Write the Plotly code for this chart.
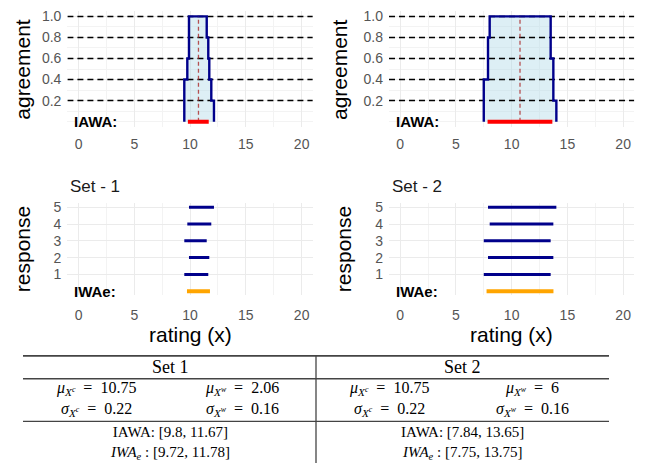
import plotly.graph_objects as go

# ---------------- data ----------------
SETS = ["Set 1", "Set 2"]
RESPONSES = [1, 2, 3, 4, 5]
# interval responses (left, right) per set, response 1..5
SET1_LEFT = [9.48, 9.90, 9.48, 9.75, 9.90]
SET1_RIGHT = [11.63, 11.72, 11.49, 11.90, 12.14]
SET2_LEFT = [7.50, 7.88, 7.50, 8.03, 7.88]
SET2_RIGHT = [13.50, 13.74, 13.50, 13.74, 14.01]

MU_C = [10.75, 10.75]
MU_W = [2.06, 6]
SIG_C = [0.22, 0.22]
SIG_W = [0.16, 0.16]
IAWA = [[9.8, 11.67], [7.84, 13.65]]
IWAE = [[9.72, 11.78], [7.75, 13.75]]

AGREE_LEVELS = [0.2, 0.4, 0.6, 0.8, 1.0]
AGREE_TICKTEXT = ["0.2", "0.4", "0.6", "0.8", "1.0"]
X_TICKS = [0, 5, 10, 15, 20]
X_TICKTEXT = ["0", "5", "10", "15", "20"]
RESP_TICKTEXT = ["1", "2", "3", "4", "5"]

# ---------------- layout constants ----------------
W, H = 646, 463
XRANGE = [-1, 21]
NAVY = "#00008B"
SANS = "Liberation Sans, Arial, sans-serif"
SERIF = "Liberation Serif, Times New Roman, serif"
TICKC = "#555555"
GRID = "#EBEBEB"


def px(x):
    return x / W


def py(y):
    return 1 - y / H


def agreement_path(lefts, rights):
    n = len(lefts)
    bps = sorted(set(lefts + rights))
    xs, ys, prev = [], [], 0.0
    for b in bps:
        c = (sum(l <= b for l in lefts) - sum(r <= b for r in rights)) / n
        xs += [b, b]
        ys += [prev, c]
        prev = c
    return xs, ys


fig = go.Figure()

panels = [
    (SET1_LEFT, SET1_RIGHT, 0, "x", "y", "x3", "y3"),
    (SET2_LEFT, SET2_RIGHT, 1, "x2", "y2", "x4", "y4"),
]

for lefts, rights, i, xa, ya, xb, yb in panels:
    sx, sy = agreement_path(lefts, rights)
    # fill
    fig.add_trace(go.Scatter(x=sx, y=sy, xaxis=xa, yaxis=ya, mode="lines",
                             fill="toself", fillcolor="rgba(173,216,230,0.42)",
                             line=dict(width=0), hoverinfo="skip", showlegend=False))
    # dashed agreement levels
    hx, hy = [], []
    for lv in AGREE_LEVELS:
        hx += [XRANGE[0], XRANGE[1], None]
        hy += [lv, lv, None]
    fig.add_trace(go.Scatter(x=hx, y=hy, xaxis=xa, yaxis=ya, mode="lines",
                             line=dict(color="black", width=1.5, dash="6px,4px"),
                             hoverinfo="skip", showlegend=False))
    # outline
    fig.add_trace(go.Scatter(x=sx, y=sy, xaxis=xa, yaxis=ya, mode="lines",
                             line=dict(color=NAVY, width=2.4),
                             hoverinfo="skip", showlegend=False))
    # mean centre line
    fig.add_trace(go.Scatter(x=[MU_C[i], MU_C[i]], y=[0, 1], xaxis=xa, yaxis=ya,
                             mode="lines",
                             line=dict(color="rgba(170,40,40,0.8)", width=1.3, dash="4px,3px"),
                             hoverinfo="skip", showlegend=False))
    # IAWA bar
    fig.add_trace(go.Scatter(x=IAWA[i], y=[0, 0], xaxis=xa, yaxis=ya, mode="lines",
                             line=dict(color="#FF0000", width=4),
                             hoverinfo="skip", showlegend=False))
    # responses
    rx, ry = [], []
    for l, r, k in zip(lefts, rights, RESPONSES):
        rx += [l, r, None]
        ry += [k, k, None]
    fig.add_trace(go.Scatter(x=rx, y=ry, xaxis=xb, yaxis=yb, mode="lines",
                             line=dict(color=NAVY, width=3),
                             hoverinfo="skip", showlegend=False))
    # IWAe bar
    fig.add_trace(go.Scatter(x=IWAE[i], y=[0, 0], xaxis=xb, yaxis=yb, mode="lines",
                             line=dict(color="#FFA500", width=4),
                             hoverinfo="skip", showlegend=False))
    # labels
    fig.add_annotation(x=-0.55, y=0, xref=xa, yref=ya, text="<b>IAWA:</b>",
                       showarrow=False, xanchor="left", yanchor="middle",
                       font=dict(family=SANS, size=15, color="black"))
    fig.add_annotation(x=-0.55, y=0, xref=xb, yref=yb, text="<b>IWAe:</b>",
                       showarrow=False, xanchor="left", yanchor="middle",
                       font=dict(family=SANS, size=15, color="black"))

XD_L = [px(67.4), px(312.8)]
XD_R = [px(389), px(634.3)]
YD_T = [py(124), py(7.2)]
YD_B = [py(293.9), py(200.8)]


def xaxis_cfg(standoff):
    return dict(range=XRANGE, tickvals=X_TICKS, ticktext=X_TICKTEXT, showgrid=True,
                gridcolor=GRID, gridwidth=1.2, zeroline=False, showline=False, ticks="",
                tickfont=dict(family=SANS, size=14, color=TICKC), ticklabelstandoff=standoff,
                minor=dict(dtick=2.5, tick0=0, showgrid=True, gridcolor="#F3F3F3", gridwidth=0.8))


ytop = dict(range=[-0.05, 1.05], tickvals=AGREE_LEVELS, ticktext=AGREE_TICKTEXT,
            showgrid=True, gridcolor=GRID, gridwidth=1.2, zeroline=False, ticks="",
            tickfont=dict(family=SANS, size=14, color=TICKC), ticklabelstandoff=5,
            minor=dict(tickvals=[0.0, 0.1, 0.3, 0.5, 0.7, 0.9], showgrid=True,
                       gridcolor="#F3F3F3", gridwidth=0.8))
ybot = dict(range=[-0.25, 5.25], tickvals=RESPONSES, ticktext=RESP_TICKTEXT,
            showgrid=True, gridcolor=GRID, gridwidth=1.2, zeroline=False, ticks="",
            tickfont=dict(family=SANS, size=14, color=TICKC), ticklabelstandoff=5)

fig.update_layout(
    width=W, height=H, margin=dict(l=0, r=0, t=0, b=0),
    plot_bgcolor="white", paper_bgcolor="white", showlegend=False,
    xaxis=dict(domain=XD_L, anchor="y", **xaxis_cfg(7)),
    yaxis=dict(domain=YD_T, anchor="x", **ytop),
    xaxis2=dict(domain=XD_R, anchor="y2", **xaxis_cfg(7)),
    yaxis2=dict(domain=YD_T, anchor="x2", **ytop),
    xaxis3=dict(domain=XD_L, anchor="y3", **xaxis_cfg(10)),
    yaxis3=dict(domain=YD_B, anchor="x3", **ybot),
    xaxis4=dict(domain=XD_R, anchor="y4", **xaxis_cfg(10)),
    yaxis4=dict(domain=YD_B, anchor="x4", **ybot),
)

# axis titles and panel titles
for xc, title, yc in [(21.7, "agreement", 65.6), (339, "agreement", 65.6),
                      (22, "response", 247.3), (343, "response", 247.3)]:
    fig.add_annotation(x=px(xc), y=py(yc), xref="paper", yref="paper", text=title,
                       textangle=-90, showarrow=False, xanchor="center", yanchor="middle",
                       font=dict(family=SANS, size=21, color="black"))
for xc in [190, 511.6]:
    fig.add_annotation(x=px(xc), y=py(333), xref="paper", yref="paper", text="rating (x)",
                       showarrow=False, xanchor="center", yanchor="middle",
                       font=dict(family=SANS, size=21, color="black"))
for xl, name in [(68, "Set - 1"), (390, "Set - 2")]:
    fig.add_annotation(x=px(xl), y=py(184), xref="paper", yref="paper", text=name,
                       showarrow=False, xanchor="left", yanchor="middle",
                       font=dict(family=SANS, size=17, color="#1A1A1A"))

# ---------------- table ----------------
LINEC = "#444444"
for yl, wd in [(355, 1.8), (378, 1.3), (421, 1.3)]:
    fig.add_shape(type="line", xref="paper", yref="paper", x0=px(23), x1=px(609),
                  y0=py(yl), y1=py(yl), line=dict(color=LINEC, width=wd))
fig.add_shape(type="line", xref="paper", yref="paper", x0=px(316), x1=px(316),
              y0=py(355), y1=py(463), line=dict(color=LINEC, width=1.3))


def fmt(v):
    return f"{v:g}"


EQ = "\u2002=\u2002"
col_centres = [170, 463]
sub_centres = [(96, 242), (389, 532)]
for i, name in enumerate(SETS):
    cc = col_centres[i]
    a, b = sub_centres[i]
    blocks = [
        (cc, 366, name, 18),
        (a, 398.5,
         f"<i>μ</i><sub><i>X</i><sup><i>c</i></sup></sub>{EQ}{fmt(MU_C[i])}<br>"
         f"<i>σ</i><sub><i>X</i><sup><i>c</i></sup></sub>{EQ}{fmt(SIG_C[i])}", 16),
        (b, 398.5,
         f"<i>μ</i><sub><i>X</i><sup><i>w</i></sup></sub>{EQ}{fmt(MU_W[i])}<br>"
         f"<i>σ</i><sub><i>X</i><sup><i>w</i></sup></sub>{EQ}{fmt(SIG_W[i])}", 16),
        (cc, 442.5,
         f"IAWA: [{fmt(IAWA[i][0])}, {fmt(IAWA[i][1])}]<br>"
         f"<i>IWA</i><sub><i>e</i></sub> : [{fmt(IWAE[i][0])}, {fmt(IWAE[i][1])}]", 15),
    ]
    for xc, yc, txt, fs in blocks:
        fig.add_annotation(x=px(xc), y=py(yc), xref="paper", yref="paper", text=txt,
                           showarrow=False, xanchor="center", yanchor="middle", align="center",
                           font=dict(family=SERIF, size=fs, color="black"))

fig.write_html("out.html")
